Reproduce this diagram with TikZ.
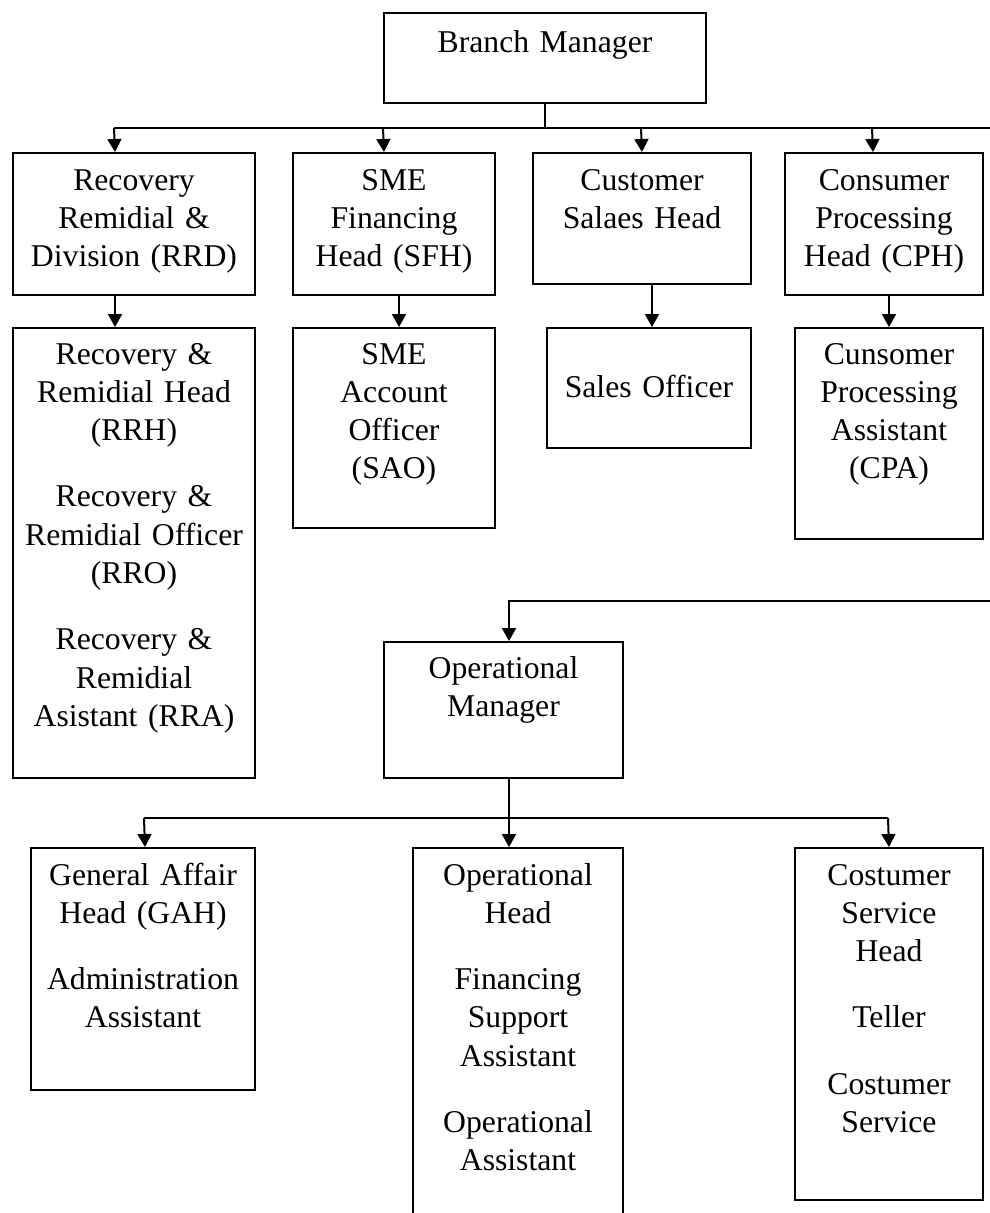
\documentclass[tikz,border=0pt]{standalone}
\usepackage{fontspec}
\setmainfont{Liberation Serif}
\usetikzlibrary{arrows.meta}

\begin{document}
\begin{tikzpicture}[x=1pt,y=-1pt]
	\tikzstyle{every node}+=[inner sep=0pt]
	\tikzstyle{box}=[draw, line width=2pt, anchor=north west]
	\tikzstyle{txt}=[anchor=base, align=center, font=\fontsize{31.7}{38.3}\selectfont]
	\tikzstyle{link}=[line width=2pt]
	\tikzstyle{arr}=[line width=2pt, -{Triangle[length=13pt,width=14pt]}]
	\useasboundingbox (0,0) rectangle (990,1213);
	% top level
	\node [box, minimum width=322, minimum height=90] (bm) at (383,12) {};
	\node [txt, text width=322] (bmtxt) at ([yshift=-40]bm.north) {Branch Manager};
	% first row
	\node [box, minimum width=242, minimum height=142] (rrd) at (12,152) {};
	\node [txt, text width=242] (rrdtxt) at ([yshift=-38]rrd.north) {Recovery\\Remidial \&\\Division (RRD)};
	\node [box, minimum width=202, minimum height=142] (sfh) at (292,152) {};
	\node [txt, text width=202] (sfhtxt) at ([yshift=-38]sfh.north) {SME\\Financing\\Head (SFH)};
	\node [box, minimum width=218, minimum height=131] (csh) at (532,152) {};
	\node [txt, text width=218] (cshtxt) at ([yshift=-38]csh.north) {Customer\\Salaes Head};
	\node [box, minimum width=198, minimum height=142] (cph) at (784,152) {};
	\node [txt, text width=198] (cphtxt) at ([yshift=-38]cph.north) {Consumer\\Processing\\Head (CPH)};
	% second row
	\node [box, minimum width=242, minimum height=450] (rrh) at (12,327) {};
	\node [txt, text width=242] (rrhtxt) at ([yshift=-37]rrh.north) {Recovery \&\\Remidial Head\\(RRH)\\[28pt]Recovery \&\\Remidial Officer\\(RRO)\\[28pt]Recovery \&\\Remidial\\Asistant (RRA)};
	\node [box, minimum width=202, minimum height=200] (sao) at (292,327) {};
	\node [txt, text width=202] (saotxt) at ([yshift=-37]sao.north) {SME\\Account\\Officer\\(SAO)};
	\node [box, minimum width=204, minimum height=120] (so) at (546,327) {};
	\node [txt, text width=204] (sotxt) at ([yshift=-70]so.north) {Sales Officer};
	\node [box, minimum width=188, minimum height=211] (cpa) at (794,327) {};
	\node [txt, text width=188] (cpatxt) at ([yshift=-37]cpa.north) {Cunsomer\\Processing\\Assistant\\(CPA)};
	% operational branch
	\node [box, minimum width=239, minimum height=136] (om) at (383,641) {};
	\node [txt, text width=239] (omtxt) at ([yshift=-37]om.north) {Operational\\Manager};
	\node [box, minimum width=224, minimum height=242] (gah) at (30,847) {};
	\node [txt, text width=224] (gahtxt) at ([yshift=-38]gah.north) {General Affair\\Head (GAH)\\[28pt]Administration\\Assistant};
	\node [box, minimum width=210, minimum height=383] (oph) at (412,847) {};
	\node [txt, text width=210] (ophtxt) at ([yshift=-38]oph.north) {Operational\\Head\\[28pt]Financing\\Support\\Assistant\\[28pt]Operational\\Assistant};
	\node [box, minimum width=188, minimum height=352] (csv) at (794,847) {};
	\node [txt, text width=188] (csvtxt) at ([yshift=-38]csv.north) {Costumer\\Service\\Head\\[28pt]Teller\\[28pt]Costumer\\Service};
	% connectors
	\coordinate (t1) at (114,128);
	\coordinate (t2) at (383,128);
	\coordinate (t3) at (641,128);
	\coordinate (t4) at (872,128);
	\coordinate (tr) at (990,128);
	\draw [link] (bm.south) -- (bm.south |- tr);
	\draw [link] (t1) -- (tr);
	\draw [arr] (t1) -- ([xshift=-19]rrd.north);
	\draw [arr] (t2) -- ([xshift=-10]sfh.north);
	\draw [arr] (t3) -- (csh.north);
	\draw [arr] (t4) -- ([xshift=-11]cph.north);
	\draw [arr] ([xshift=-19]rrd.south) -- ([xshift=-19]rrh.north);
	\draw [arr] ([xshift=5]sfh.south) -- ([xshift=5]sao.north);
	\draw [arr] ([xshift=10]csh.south) -- ([xshift=3]so.north);
	\draw [arr] ([xshift=5]cph.south) -- (cpa.north);
	\coordinate (mr) at (990,601);
	\draw [arr] (mr) -| ([xshift=5.5]om.north);
	\draw [arr] ([xshift=5.5]om.south) -- ([xshift=-9]oph.north);
	\coordinate (b1) at (144,818);
	\coordinate (b3) at (888,818);
	\draw [link] (b1) -- (b3);
	\draw [arr] (b1) -- ([xshift=2]gah.north);
	\draw [arr] (b3) -- (csv.north);
\end{tikzpicture}
\end{document}
